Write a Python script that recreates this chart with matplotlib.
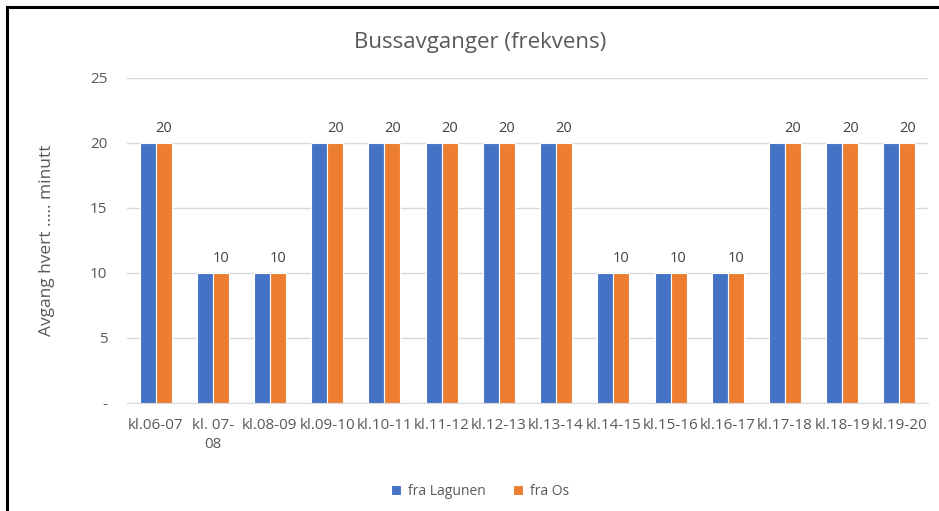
import matplotlib.pyplot as plt
import numpy as np

categories = ["kl.06-07", "kl. 07-\n08", "kl.08-09", "kl.09-10", "kl.10-11", "kl.11-12",
              "kl.12-13", "kl.13-14", "kl.14-15", "kl.15-16", "kl.16-17", "kl.17-18",
              "kl.18-19", "kl.19-20"]
fra_lagunen = [20, 10, 10, 20, 20, 20, 20, 20, 10, 10, 10, 20, 20, 20]
fra_os = [20, 10, 10, 20, 20, 20, 20, 20, 10, 10, 10, 20, 20, 20]

plt.rcParams['font.family'] = ['Open Sans', 'DejaVu Sans']
txt = '#595959'

fig = plt.figure(figsize=(9.39, 5.11), dpi=100)
ax = fig.add_axes([0.1352, 0.2114, 0.8531, 0.636])

x = np.arange(len(categories))
w = 0.28
ax.bar(x - 0.14, fra_lagunen, w, color='#4472C4', edgecolor='white', linewidth=0.8,
       label='fra Lagunen', zorder=3)
b2 = ax.bar(x + 0.14, fra_os, w, color='#ED7D31', edgecolor='white', linewidth=0.8,
            label='fra Os', zorder=3)
ax.bar_label(b2, padding=5, fontsize=10.5, color='#404040')

ax.set_xlim(-0.5, len(categories) - 0.5)
ax.set_ylim(0, 25)
ax.set_yticks([0, 5, 10, 15, 20, 25])
ax.set_yticklabels(['-', '5', '10', '15', '20', '25'])
ax.set_xticks(x)
ax.set_xticklabels(categories, fontsize=11, color=txt, linespacing=1.3)
ax.tick_params(axis='y', labelsize=11, labelcolor=txt, length=0, pad=14)
ax.tick_params(axis='x', length=0, pad=11)
ax.grid(axis='y', color='#d9d9d9', linewidth=1, zorder=0)
for s in ['top', 'right', 'left']:
    ax.spines[s].set_visible(False)
ax.spines['bottom'].set_color('#d9d9d9')

ax.set_ylabel("Avgang hvert ..... minutt", fontsize=12.5, color=txt)
ax.yaxis.set_label_coords(-0.09, 0.5)
fig.text(0.511, 0.917, "Bussavganger (frekvens)", fontsize=16, color=txt,
         ha='center', va='center')

fig.legend(loc='lower center', bbox_to_anchor=(0.511, 0.0), ncol=2, frameon=False,
           fontsize=10, labelcolor=txt, handlelength=0.7, handleheight=0.7,
           handletextpad=0.5, columnspacing=2.0)

# black frame on left and top edge
fig.add_artist(plt.Line2D([0.0075, 0.0075], [0, 0.986], color='black', linewidth=2.2,
                          transform=fig.transFigure))
fig.add_artist(plt.Line2D([0.0075, 1], [0.986, 0.986], color='black', linewidth=2.2,
                          transform=fig.transFigure))

fig.savefig('out.png', dpi=100)
